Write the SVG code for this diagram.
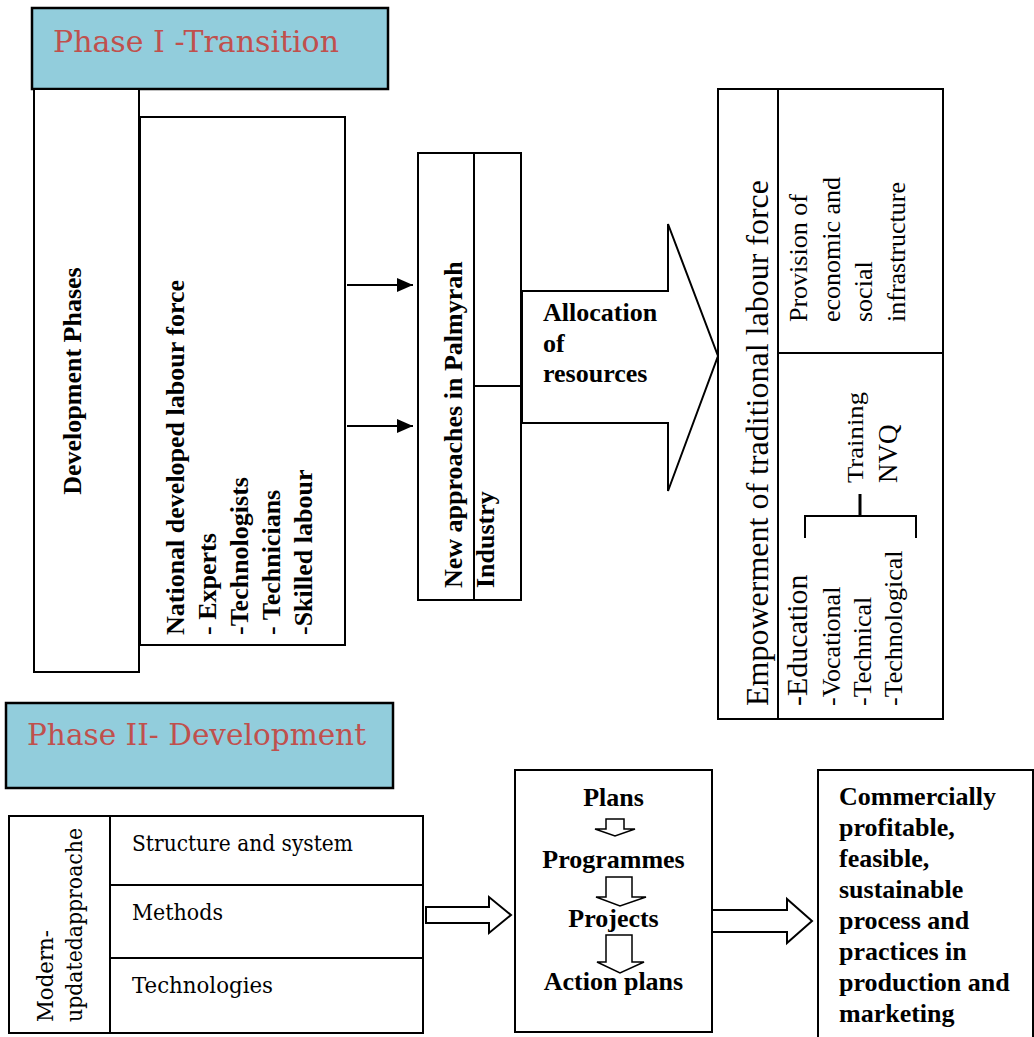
<svg xmlns="http://www.w3.org/2000/svg" width="1034" height="1037" viewBox="0 0 1034 1037">
<style>
.b{font-family:"Liberation Serif","Times New Roman",serif;font-weight:bold;font-size:26px;fill:#000}
.r{font-family:"Liberation Serif","Times New Roman",serif;font-size:26px;fill:#000}
.cs{font-family:"DejaVu Serif",serif;font-size:22px;fill:#000}
.ttl{font-family:"DejaVu Serif",serif;font-size:30px;fill:#C0504D}
.box{fill:#fff;stroke:#000;stroke-width:2}
.hdr{fill:#92CDDC;stroke:#000;stroke-width:2.5}
.ln{fill:none;stroke:#000;stroke-width:2}
.ha{fill:#fff;stroke:#000;stroke-width:2;stroke-linejoin:miter}
</style>
<defs>
<marker id="ah" viewBox="0 0 16 14" refX="16" refY="7" markerWidth="16" markerHeight="14" markerUnits="userSpaceOnUse" orient="auto">
<path d="M0,0 L16,7 L0,14 z" fill="#000"/>
</marker>
</defs>
<rect width="1034" height="1037" fill="#fff"/>

<g id="phase1">
<rect class="hdr" x="32" y="8" width="356" height="81"/>
<text class="ttl" x="53" y="52" textLength="286" lengthAdjust="spacingAndGlyphs">Phase I -Transition</text>
</g>

<g id="dev-phases">
<rect class="box" x="34" y="89" width="105" height="583"/>
<text class="b" transform="translate(81,381) rotate(-90)" text-anchor="middle">Development  Phases</text>
</g>

<g id="national">
<rect class="box" x="140" y="117" width="205" height="528"/>
<text class="b" transform="translate(184,635) rotate(-90)">National developed labour force</text>
<text class="b" transform="translate(216,635) rotate(-90)">- Experts</text>
<text class="b" transform="translate(248,635) rotate(-90)">-Technologists</text>
<text class="b" transform="translate(280,635) rotate(-90)">- Technicians</text>
<text class="b" transform="translate(312,635) rotate(-90)">-Skilled labour</text>
</g>

<g id="connectors">
<line class="ln" x1="347" y1="285" x2="413" y2="285" marker-end="url(#ah)"/>
<line class="ln" x1="347" y1="426" x2="413" y2="426" marker-end="url(#ah)"/>
<polygon class="ha" points="522,291 668,291 668,224 718,356 668,491 668,423 522,423"/>
<polygon class="ha" points="426,907 489,907 489,897 511,915 489,933 489,923 426,923"/>
<polygon class="ha" points="712,910 787,910 787,899 812,921 787,943 787,932 712,932"/>
</g>

<g id="new-approaches">
<rect class="box" x="418" y="153" width="103" height="447"/>
<line class="ln" x1="474" y1="153" x2="474" y2="600"/>
<line class="ln" x1="474" y1="386" x2="521" y2="386"/>
<text class="b" transform="translate(462,588) rotate(-90)">New approaches in Palmyrah</text>
<text class="b" transform="translate(494,588) rotate(-90)">Industry</text>
</g>

<g id="allocation">
<text class="b" x="543" y="321">Allocation</text>
<text class="b" x="543" y="352">of</text>
<text class="b" x="543" y="382">resources</text>
</g>

<g id="empowerment">
<rect class="box" x="718" y="89" width="225" height="630"/>
<line class="ln" x1="778" y1="89" x2="778" y2="719"/>
<line class="ln" x1="778" y1="353" x2="943" y2="353"/>
<text class="r" style="font-size:32px" transform="translate(768,706) rotate(-90)">Empowerment of traditional labour force</text>
<text class="r" transform="translate(807,322) rotate(-90)">Provision of</text>
<text class="r" transform="translate(840,322) rotate(-90)">economic and</text>
<text class="r" transform="translate(872,322) rotate(-90)">social</text>
<text class="r" transform="translate(905,322) rotate(-90)">infrastructure</text>
<text class="r" style="font-size:30px" transform="translate(807,706) rotate(-90)">-Education</text>
<text class="r" transform="translate(840,706) rotate(-90)">-Vocational</text>
<text class="r" transform="translate(871,706) rotate(-90)">-Technical</text>
<text class="r" transform="translate(902,706) rotate(-90)">-Technological</text>
<text class="r" style="font-size:24px" transform="translate(863,483) rotate(-90)" textLength="91" lengthAdjust="spacingAndGlyphs">Training</text>
<text class="r" style="font-size:27px" transform="translate(897,483) rotate(-90)">NVQ</text>
<path class="ln" d="M805,538 V516 H916 V538"/>
<line x1="860" y1="494" x2="860" y2="516" stroke="#000" stroke-width="3"/>
</g>

<g id="phase2">
<rect class="hdr" x="6" y="703" width="387" height="85"/>
<text class="ttl" x="27" y="745" textLength="339" lengthAdjust="spacingAndGlyphs">Phase II- Development</text>
</g>

<g id="modern">
<rect class="box" x="9" y="816" width="414" height="217"/>
<line class="ln" x1="110" y1="816" x2="110" y2="1033"/>
<line class="ln" x1="110" y1="885" x2="423" y2="885"/>
<line class="ln" x1="110" y1="958" x2="423" y2="958"/>
<text class="cs" transform="translate(53,1022) rotate(-90)" textLength="92" lengthAdjust="spacingAndGlyphs">Modern-</text>
<text class="cs" transform="translate(82,1022) rotate(-90)" textLength="194" lengthAdjust="spacingAndGlyphs">updatedapproache</text>
<text class="cs" x="132" y="851" textLength="221" lengthAdjust="spacingAndGlyphs">Structure and system</text>
<text class="cs" x="132" y="920" textLength="91" lengthAdjust="spacingAndGlyphs">Methods</text>
<text class="cs" x="132" y="993" textLength="141" lengthAdjust="spacingAndGlyphs">Technologies</text>
</g>

<g id="plans">
<rect class="box" x="515" y="770" width="197" height="262"/>
<text class="b" x="613.5" y="806" text-anchor="middle">Plans</text>
<polygon class="ha" style="stroke-width:1.5" points="606,819 624,819 624,829 635,829 615,836 595,829 606,829"/>
<text class="b" x="613.5" y="868" text-anchor="middle">Programmes</text>
<polygon class="ha" style="stroke-width:1.5" points="606,877 632,877 632,897 646,897 620,906 596,897 606,897"/>
<text class="b" x="613.5" y="927" text-anchor="middle">Projects</text>
<polygon class="ha" style="stroke-width:1.5" points="606,935 632,935 632,962 644,962 620,973 597,962 606,962"/>
<text class="b" x="613.5" y="990" text-anchor="middle">Action plans</text>
</g>

<g id="commercial">
<rect class="box" x="818" y="770" width="215" height="280"/>
<text class="b" x="839" y="805">Commercially</text>
<text class="b" x="839" y="836">profitable,</text>
<text class="b" x="839" y="867">feasible,</text>
<text class="b" x="839" y="898">sustainable</text>
<text class="b" x="839" y="929">process and</text>
<text class="b" x="839" y="960">practices in</text>
<text class="b" x="839" y="991">production and</text>
<text class="b" x="839" y="1022">marketing</text>
</g>
</svg>
